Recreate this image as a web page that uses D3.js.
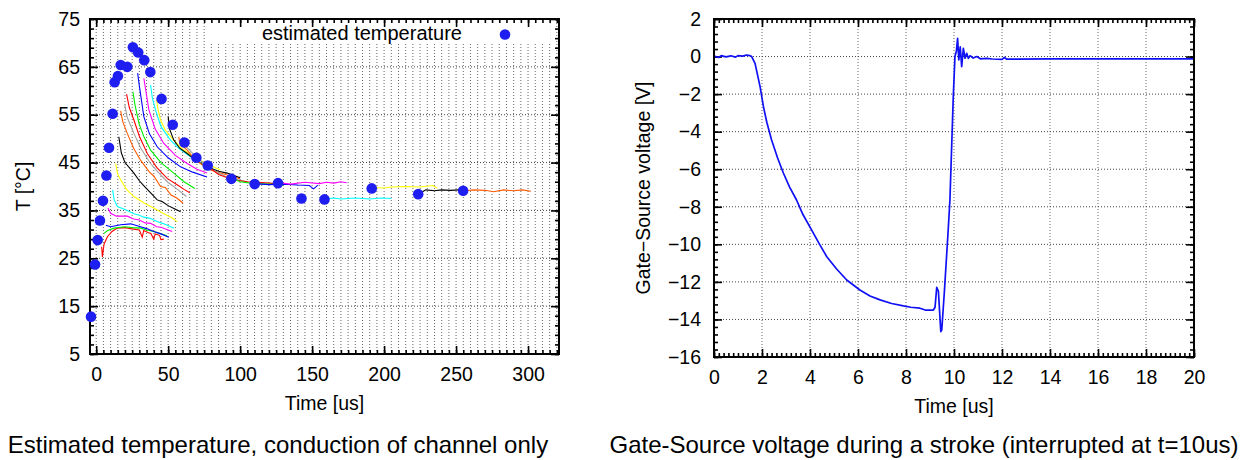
<!DOCTYPE html>
<html>
<head>
<meta charset="utf-8">
<script src="https://cdnjs.cloudflare.com/ajax/libs/d3/7.8.5/d3.min.js"></script>
<style>
body { margin: 0; background: #fff; }
text { font-family: "Liberation Sans", Arial, sans-serif; fill: #000; }
</style>
</head>
<body>
<script>
// ---- left chart: estimated temperature ----
var estTime = [-3.6, -0.8, 1.0, 2.6, 4.7, 7.1, 8.9, 11.4, 12.8, 15.1, 17.0, 21.6, 25.5, 29.2, 33.4,
               37.6, 45.4, 53.2, 61.3, 69.6, 77.5, 93.9, 110.1, 126.3, 142.6, 158.6, 191.4, 223.7, 254.9];
var estTemp = [12.8, 23.7, 28.8, 32.9, 37.0, 42.3, 48.1, 55.2, 61.8, 63.1, 65.4, 65.0, 69.1, 68.0, 66.4,
               63.9, 58.3, 52.9, 49.2, 46.0, 44.4, 41.6, 40.5, 40.7, 37.5, 37.3, 39.6, 38.4, 39.1];

// measured cooling curves [time us, temp C]
var coolCurves = [
  [[3.8,27.4],[4.3,25.3],[5.5,28],[7.8,29.5],[11,30.6],[14.7,31.3],[20,31.4],[26,31.1],[30,30.9],[32,29.4],[33,30.8],[36,30.4],[38,30.2],[40,29.0],[41,30.1],[44,29.8],[45,28.9],[47,29]],
  [[5.4,30.2],[8,30.8],[12.3,31.3],[20,31.6],[25,31.4],[30.8,31.3],[35,30.9],[40,30.6],[45,30.1],[49.3,29.7]],
  [[6.8,31.9],[10,31.6],[17,32],[24,32.2],[30.8,31.6],[35,31.2],[40,30.6],[45,30.1],[50.5,29.4]],
  [[8.2,35.5],[10,34.4],[14,33.8],[21.6,33.8],[26,33.2],[30,33],[34,32.4],[37.8,32.3],[42,31.6],[45,31.5],[52.8,30.6]],
  [[11.4,39.3],[12.5,37.2],[14.7,35.8],[20,35.2],[26.2,34.3],[30,34],[33,33.6],[37,33.4],[40,33],[44,32.5],[47,32.2],[54,31.3]],
  [[13.5,44.8],[15,42.5],[17,41.4],[21,39.4],[26.2,37.9],[33,36.6],[38,35.8],[42.4,35.1],[49,34],[53,33.4],[56.3,32.6]],
  [[15.7,50.4],[17.5,47],[20,45],[26.2,42.8],[30,41.2],[33,40.2],[38,38.6],[42.4,37.2],[46,36.8],[50,36],[54,35.4],[58.6,34.7]],
  [[17,55.8],[18.5,53.5],[21.6,51.1],[26,48],[30.8,45.5],[37,43],[40,42.2],[44.7,40],[48,39.8],[52,38.2],[56,37.6],[60.4,36.5]],
  [[19.8,57.2],[21.5,54.5],[26.2,51.1],[31,48],[37.8,44.8],[43,43],[49.3,41],[56,39.5],[62.7,37.9]],
  [[21.1,59.3],[23,56.5],[26.2,53.9],[30,50.5],[35.5,46.9],[42,44],[49.3,41.7],[57,40.2],[61,39.4],[65,38.7]],
  [[25.5,59.8],[27,57],[29.7,53.2],[33,50.5],[37.8,47.6],[45,45],[53.9,42.8],[61,41],[68.5,39.6]],
  [[28.8,63.7],[30,61],[33.1,54.6],[37,51],[42.4,48.3],[50,46],[58.6,44.1],[67,43],[77,42]],
  [[33.1,62.6],[34.5,60],[36.6,56],[41,52],[47,49],[55,46.5],[63.2,44.8],[70,43.6],[77,42.8]],
  [[37.8,61.2],[39,58.5],[41.2,56],[45,52.5],[51.6,49.7],[58,47.8],[65.5,46.2],[73,44.8],[81.6,43.5]],
  [[41.9,58.2],[43,56],[44.7,53.9],[48,51.8],[53.9,49.7],[60,47.8],[67.8,46.2],[76,44.8],[86,43.5]],
  [[50,54.6],[51,52],[53.9,49.7],[58,48],[63.2,46.9],[70,45.3],[77,44.1],[85,43.2],[91,42.8],[100,41.8]],
  [[57.4,50.4],[58,49],[63.2,47.6],[67,46.2],[72.4,44.8],[80,43.4],[91,42.4],[100,41.6]],
  [[62,48.5],[70,46],[80,43.6],[92,41.8],[105,41]],
  [[77,44.3],[85,42.5],[95,41.4],[105,41],[115,40.8],[125,40.6]],
  [[94,41.8],[100,41],[110,40.6],[120,40.5],[130,40.3]],
  [[110,40.6],[120,40.4],[130,40.5],[140,40.3],[148,40.2],[151,39.5],[154,40.3]],
  [[126,40.8],[135,40.5],[145,40.9],[155,40.6],[160,40.9],[165,40.7],[170,41],[174,40.8]],
  [[158,37.4],[165,37.6],[170,37.4],[180,37.6],[190,37.4],[198,37.6],[205,37.5]],
  [[192,39.8],[200,39.7],[205,39.9],[215,40],[225,39.9],[234,40.2],[237,39.6]],
  [[225,38.6],[229,39.3],[235,39.1],[240,39.3],[246,39.2],[252,39.3]],
  [[257,39.1],[262,39.3],[270,39.2],[276,38.9],[283,39.3],[290,39.1],[296,39.3],[302,39]]
];
var coolColors = ["#ff0000","#00ee00","#0000ff","#ff00ff","#00ffff","#ffff00","#000000","#ff5a00","#a0a0a0",
                  "#ff0000","#00ee00","#0000ff","#ff00ff","#00ffff","#ffff00","#000000","#ff5a00","#a0a0a0",
                  "#ff0000","#00ee00","#0000ff","#ff00ff","#00ffff","#ffff00","#000000","#ff5a00"];

var tempXTicks = [0, 50, 100, 150, 200, 250, 300];
var tempYTicks = [5, 15, 25, 35, 45, 55, 65, 75];

// ---- right chart: gate-source voltage ----
var gateTime = [0,0.2,0.3,0.5,0.7,0.9,1.0,1.2,1.35,1.5,1.57,1.71,1.92,2.06,2.2,2.4,2.65,2.89,3.15,3.44,3.7,4.07,4.4,4.7,
                5.1,5.53,6.08,6.5,6.92,7.4,7.89,8.2,8.58,8.8,9.14,9.21,9.28,9.35,9.45,9.49,9.6,9.76,9.83,9.97,10.04,
                10.1,10.15,10.2,10.26,10.32,10.39,10.46,10.53,10.6,10.67,10.8,10.95,11.1,11.36,11.6,12,12.1,12.2,14,16,18,20];
var gateVolt = [0.02,-0.05,0.05,-0.02,0.04,-0.03,0.05,0.02,0.08,0.05,0,-0.36,-1.6,-2.67,-3.5,-4.44,-5.4,-6.2,-6.95,-7.64,-8.4,-9.24,-10.0,-10.66,
                -11.3,-11.9,-12.43,-12.75,-12.96,-13.15,-13.28,-13.35,-13.4,-13.5,-13.5,-13.35,-12.29,-12.5,-14.65,-14.56,-12.5,-9.2,-7.64,-2.14,0,
                0.3,0.97,-0.18,0.52,-0.54,0.44,-0.09,0.17,-0.1,0.05,-0.08,0,-0.12,-0.1,-0.13,-0.15,-0.05,-0.14,-0.12,-0.12,-0.12,-0.12];
var gateXTicks = d3.range(0, 21, 2);
var gateYTicks = d3.range(-16, 3, 2);

var W = 1254, H = 460;
var svg = d3.select("body").append("svg").attr("width", W).attr("height", H);

function panel(x, y, o) {
  var g = svg.append("g");
  var xl = x.range()[0], xr = x.range()[1], yb = y.range()[0], yt = y.range()[1];

  g.append("g").selectAll("line").data(o.xGrid).join("line")
    .attr("x1", d => x(d)).attr("x2", d => x(d)).attr("y1", yb).attr("y2", yt)
    .attr("stroke", "#666").attr("stroke-width", 1).attr("stroke-dasharray", "1,2");
  g.append("g").selectAll("line").data(o.yGrid).join("line")
    .attr("x1", xl).attr("x2", xr).attr("y1", d => y(d)).attr("y2", d => y(d))
    .attr("stroke", "#444").attr("stroke-width", 1).attr("stroke-dasharray", "1,2");

  if (o.before) o.before(g);

  function ticks(axisFn, scale, vals, size, tr, fmt, pad) {
    var a = g.append("g").attr("transform", tr)
      .call(axisFn(scale).tickValues(vals).tickSize(-size).tickSizeOuter(0)
            .tickFormat(fmt || (() => "")).tickPadding(pad || 3));
    a.select(".domain").remove();
    a.selectAll("line").attr("stroke", "#000").attr("stroke-width", 1.6);
    a.selectAll("text").style("font-size", "19.5px").attr("fill", "#000")
      .style("font-family", '"Liberation Sans", Arial, sans-serif');
    return a;
  }
  var f = d3.format("d");
  ticks(d3.axisBottom, x, o.xMinor, 4, "translate(0," + yb + ")");
  ticks(d3.axisTop, x, o.xMinor, 4, "translate(0," + yt + ")");
  ticks(d3.axisLeft, y, o.yMinor, 4, "translate(" + xl + ",0)");
  ticks(d3.axisRight, y, o.yMinor, 4, "translate(" + xr + ",0)");
  ticks(d3.axisBottom, x, o.xTicks, 8, "translate(0," + yb + ")", f, 13);
  ticks(d3.axisTop, x, o.xTicks, 8, "translate(0," + yt + ")");
  ticks(d3.axisLeft, y, o.yTicks, 8, "translate(" + xl + ",0)", f, o.yPad);
  ticks(d3.axisRight, y, o.yTicks, 8, "translate(" + xr + ",0)");

  if (o.after) o.after(g);

  g.append("rect").attr("x", xl).attr("y", yt).attr("width", xr - xl).attr("height", yb - yt)
    .attr("fill", "none").attr("stroke", "#000").attr("stroke-width", 2);

  if (o.top) o.top(g);

  g.append("text").attr("x", (xl + xr) / 2).attr("y", o.xLabelY).attr("text-anchor", "middle")
    .style("font-size", "19.5px").text(o.xLabel);
  g.append("text").attr("transform", "translate(" + o.yLabelX + "," + ((yb + yt) / 2) + ") rotate(-90)")
    .attr("text-anchor", "middle").style("font-size", "19.5px").text(o.yLabel);
  g.append("text").attr("x", o.titleX).attr("y", 453).attr("text-anchor", "middle")
    .style("font-size", "24px").text(o.title);
}

// left panel
var xT = d3.scaleLinear().domain([-4.3, 321.5]).range([90, 559]);
var yT = d3.scaleLinear().domain([5, 75]).range([354, 19]);
var lineT = d3.line().x(d => xT(d[0])).y(d => yT(d[1]));

panel(xT, yT, {
  xGrid: d3.range(0, 321, 5), yGrid: [15, 25, 35, 45, 55, 65],
  xTicks: tempXTicks, yTicks: tempYTicks,
  xMinor: d3.range(0, 321, 5), yMinor: d3.range(5, 76, 2),
  yPad: 10,
  xLabel: "Time [us]", xLabelY: 410,
  yLabel: "T [°C]", yLabelX: 30,
  title: "Estimated temperature, conduction of channel only", titleX: 278,
  before: function (g) {
    g.append("rect").attr("x", 210).attr("y", 20).attr("width", 340).attr("height", 24).attr("fill", "#fff");
    g.append("text").attr("x", 462).attr("y", 40).attr("text-anchor", "end")
      .style("font-size", "20px").text("estimated temperature");
    g.append("g").selectAll("path").data(coolCurves).join("path")
      .attr("d", lineT).attr("fill", "none")
      .attr("stroke", (d, i) => coolColors[i]).attr("stroke-width", 1.1);
  },
  top: function (g) {
    g.append("circle").attr("cx", 505).attr("cy", 34.5).attr("r", 5.3).attr("fill", "#1e1ef0");
    g.append("g").selectAll("circle").data(estTime).join("circle")
      .attr("cx", d => xT(d)).attr("cy", (d, i) => yT(estTemp[i])).attr("r", 5.3).attr("fill", "#1e1ef0");
  }
});

// right panel
var xV = d3.scaleLinear().domain([0, 20]).range([714, 1194]);
var yV = d3.scaleLinear().domain([-16, 2]).range([357, 19]);
var lineV = d3.line().x(d => xV(d)).y((d, i) => yV(gateVolt[i]));

panel(xV, yV, {
  xGrid: d3.range(2, 20, 2), yGrid: d3.range(-14, 2, 2),
  xTicks: gateXTicks, yTicks: gateYTicks,
  xMinor: d3.range(0, 20.01, 0.2), yMinor: d3.range(-16, 2.01, 0.4),
  yPad: 13,
  xLabel: "Time [us]", xLabelY: 413,
  yLabel: "Gate−Source voltage [V]", yLabelX: 650,
  title: "Gate-Source voltage during a stroke (interrupted at t=10us)", titleX: 924,
  after: function (g) {
    g.append("path").datum(gateTime).attr("d", lineV).attr("fill", "none")
      .attr("stroke", "#1010f5").attr("stroke-width", 1.7).attr("stroke-linejoin", "round");
  }
});
</script>
</body>
</html>
